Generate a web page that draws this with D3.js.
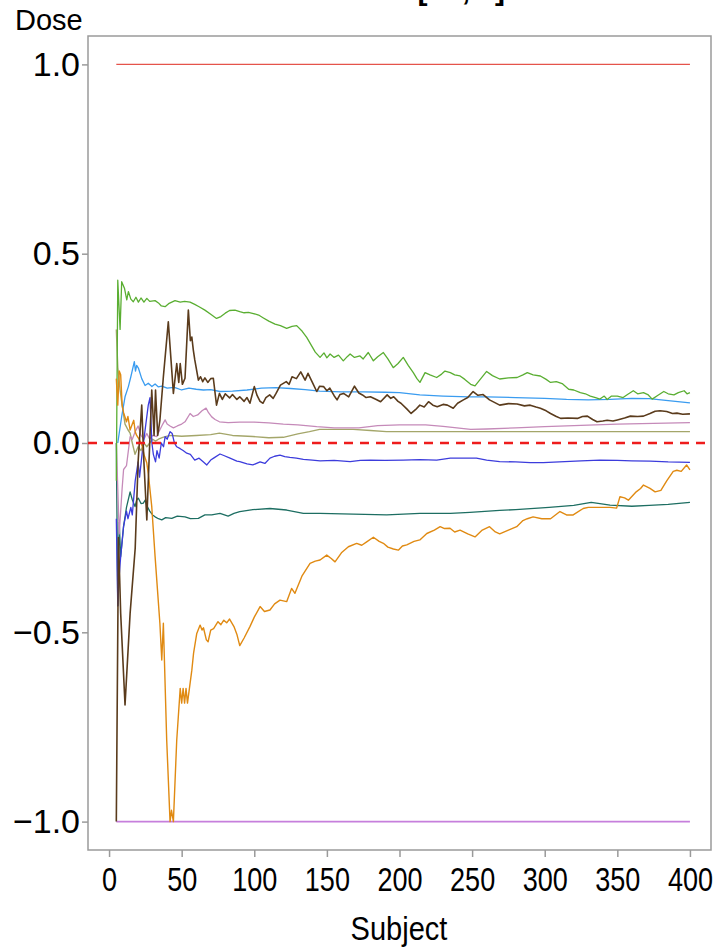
<!DOCTYPE html>
<html>
<head>
<meta charset="utf-8">
<script src="https://cdn.jsdelivr.net/npm/d3@7"></script>
<style>
  body { margin: 0; background: #fff; }
  text { font-family: "Liberation Sans", Arial, Helvetica, sans-serif; fill: #000; }
</style>
</head>
<body>
<svg id="chart" width="717" height="948"></svg>
<script>
// tick values
const xTicks = [0, 50, 100, 150, 200, 250, 300, 350, 400];
const yTicks = [-1, -0.5, 0, 0.5, 1];

// [subject, dose]
const upperBound = [[5, 1], [400, 1]];
const lowerBound = [[5, -1], [400, -1]];

const greenDose = [[5,-0.1],[6,0.43],[7.6,0.3],[8.7,0.426],[10.6,0.409],[12.2,0.378],[13.3,0.4],[15,0.38],[16.7,0.373],[18.5,0.385],[20.2,0.372],[22,0.383],[24,0.372],[26,0.382],[28,0.374],[31.7,0.376],[34,0.37],[36,0.362],[38.6,0.36],[41,0.368],[45.4,0.376],[49,0.372],[52,0.374],[55.8,0.372],[59,0.366],[62,0.36],[66,0.351],[70,0.34],[74,0.329],[77,0.334],[80,0.343],[83,0.35],[86.7,0.351],[90,0.347],[93,0.344],[96,0.345],[99.4,0.342],[103,0.338],[106,0.331],[110,0.322],[114.3,0.314],[118,0.31],[122.3,0.303],[126,0.308],[129.2,0.31],[133,0.295],[136.1,0.279],[139,0.26],[142,0.24],[145.3,0.226],[148,0.238],[150,0.225],[152.2,0.235],[155,0.226],[158,0.232],[161.3,0.217],[164,0.228],[166,0.235],[169,0.226],[172.8,0.23],[175,0.222],[178.5,0.239],[182,0.217],[185,0.228],[188.9,0.239],[192,0.222],[195.7,0.199],[199,0.21],[202.6,0.226],[206,0.205],[209.5,0.186],[212,0.17],[214.1,0.16],[217.6,0.186],[221,0.18],[225.6,0.173],[229,0.182],[231.3,0.19],[235,0.186],[238,0.18],[241.7,0.177],[245,0.168],[249,0.155],[252,0.151],[256,0.17],[260,0.189],[264,0.178],[269,0.169],[275,0.172],[281,0.173],[285,0.18],[288,0.186],[292,0.18],[297,0.177],[301,0.168],[304,0.16],[308,0.162],[312,0.157],[316.5,0.142],[320,0.14],[324.5,0.133],[328,0.13],[331.4,0.124],[335,0.12],[338,0.116],[341,0.124],[343,0.115],[346,0.124],[350,0.124],[354,0.12],[357,0.128],[361,0.138],[364,0.13],[368,0.133],[371,0.128],[374,0.116],[378,0.126],[382,0.136],[385,0.13],[389,0.127],[392,0.133],[396,0.138],[398,0.13],[400,0.133]];

const blueDose = [[6,0.0],[8.7,0.07],[11,0.122],[13.3,0.149],[15,0.175],[17.4,0.215],[18.2,0.19],[19,0.205],[20.2,0.198],[22.5,0.17],[24.8,0.152],[27,0.158],[29.5,0.149],[31.7,0.156],[34,0.148],[36.3,0.15],[40,0.145],[45,0.147],[50,0.14],[55,0.145],[60,0.142],[65,0.14],[70,0.141],[76.4,0.136],[85,0.137],[95,0.14],[105,0.145],[115,0.146],[125,0.144],[135,0.141],[145,0.137],[160,0.135],[175,0.135],[190,0.134],[200,0.133],[214,0.127],[230,0.124],[248,0.122],[260,0.122],[280,0.12],[300,0.118],[315,0.115],[330,0.114],[345,0.115],[360,0.118],[372,0.117],[385,0.112],[400,0.106]];

const brownDose = [[5,-1.0],[6.5,-0.25],[8,-0.45],[11,-0.692],[14.5,-0.45],[18,-0.278],[20,-0.05],[22.5,0.1],[24,-0.05],[26,-0.203],[28,0.0],[29.4,0.14],[31,0.02],[32,0.14],[33.5,0.02],[35,0.06],[37.4,0.175],[40.8,0.32],[44.3,0.131],[46.6,0.21],[48,0.16],[49,0.21],[50.5,0.155],[52.3,0.171],[54.6,0.351],[56,0.27],[57,0.28],[58,0.246],[59,0.22],[61.5,0.166],[63,0.175],[64.5,0.162],[66,0.172],[68,0.16],[70,0.17],[71.8,0.171],[74,0.10],[76,0.131],[78,0.115],[80,0.13],[83,0.119],[85,0.128],[88,0.115],[90,0.122],[93,0.11],[95,0.12],[97,0.105],[100,0.149],[102,0.125],[104,0.11],[106,0.105],[108,0.12],[110.6,0.127],[113,0.118],[115,0.131],[118,0.153],[122,0.162],[124,0.155],[126,0.175],[129,0.17],[132,0.188],[135,0.166],[137,0.184],[140,0.16],[143,0.136],[145,0.15],[147.7,0.149],[150,0.138],[152,0.145],[155,0.125],[157,0.114],[159,0.128],[161.5,0.131],[165,0.122],[169,0.15],[172,0.132],[174.5,0.127],[177,0.12],[180,0.122],[184,0.115],[187,0.109],[191.5,0.127],[194,0.118],[196,0.122],[199,0.11],[201,0.105],[205,0.09],[208,0.078],[211,0.088],[214,0.1],[217,0.095],[220,0.109],[223,0.1],[226,0.096],[230,0.102],[233,0.1],[237,0.092],[240,0.105],[244,0.114],[247,0.12],[250.7,0.136],[254,0.126],[257.6,0.128],[262,0.114],[265,0.108],[269,0.1],[275,0.104],[281,0.103],[286,0.098],[290,0.1],[294,0.095],[297,0.092],[301,0.085],[304,0.078],[308,0.07],[311,0.065],[316,0.066],[322.5,0.065],[326,0.07],[329.4,0.071],[333,0.062],[336,0.056],[340,0.058],[343,0.06],[347,0.058],[350,0.061],[355,0.066],[359,0.071],[364,0.07],[368,0.071],[372.5,0.078],[376,0.084],[379.4,0.085],[384,0.083],[388,0.078],[391,0.079],[395,0.076],[400,0.077]];

const pinkDose = [[5,0.0],[7,-0.24],[9,-0.12],[10,-0.07],[12,-0.06],[14.5,0.017],[16,0.01],[18,0.03],[20,0.045],[22,0.02],[24,0.01],[26,0.025],[28,0.01],[30,0.02],[32.8,0.017],[35,0.035],[37,0.05],[38.6,0.061],[40,0.05],[42,0.045],[44.3,0.04],[47,0.045],[50,0.05],[52.3,0.056],[55.8,0.078],[58,0.07],[61,0.074],[64,0.085],[66.8,0.092],[68.5,0.08],[70.7,0.069],[73,0.062],[76,0.056],[82,0.054],[90,0.055],[100,0.055],[110,0.053],[120,0.05],[130,0.048],[143,0.043],[155,0.04],[172,0.04],[185,0.046],[200,0.048],[218,0.048],[230,0.044],[249,0.036],[260,0.037],[280,0.04],[300,0.043],[320,0.046],[350,0.05],[375,0.052],[400,0.054]];

const oliveDose = [[5,0.3],[6,0.2],[7.6,0.14],[9,0.1],[11,0.05],[13,0.035],[14.5,0.026],[16,0.0],[17.9,-0.03],[20,-0.01],[22,-0.02],[24,0.0],[26,-0.01],[28,0.0],[30,0.01],[32,0.005],[34,0.01],[37,0.015],[40,0.018],[43,0.02],[50,0.018],[60,0.02],[70,0.022],[76,0.026],[85,0.02],[99,0.017],[110,0.014],[120,0.015],[130,0.024],[138,0.03],[145,0.036],[155,0.036],[168,0.036],[180,0.033],[191,0.03],[210,0.03],[247,0.03],[300,0.03],[350,0.03],[400,0.03]];

const indigoDose = [[5,-0.2],[6,-0.43],[7,-0.35],[8,-0.3],[10,-0.22],[12,-0.18],[13,-0.2],[15,-0.17],[16,-0.19],[18,-0.1],[20,-0.05],[21,-0.09],[23,-0.02],[25,0.04],[27,0.1],[28.2,0.12],[29.5,0.0],[30.5,-0.03],[32,-0.05],[33,-0.02],[34.5,-0.04],[36,0.0],[37.5,-0.01],[38.6,0.017],[40,0.01],[42,0.03],[43.5,0.025],[45,0.0],[46.6,-0.01],[49,-0.015],[51,-0.02],[53.5,-0.027],[56,-0.03],[59,-0.045],[62,-0.04],[65,-0.05],[67.3,-0.058],[70,-0.045],[72,-0.04],[76.4,-0.029],[79,-0.033],[83.3,-0.04],[88,-0.048],[90,-0.049],[95,-0.055],[99,-0.058],[104,-0.05],[107.3,-0.054],[110.8,-0.04],[114,-0.035],[117.7,-0.032],[121,-0.036],[124.5,-0.038],[129,-0.04],[133.8,-0.043],[140,-0.045],[145.3,-0.047],[155,-0.046],[166,-0.049],[173,-0.046],[180,-0.045],[190,-0.046],[202.6,-0.045],[214,-0.044],[225.6,-0.045],[235,-0.04],[244,-0.04],[253,-0.04],[260,-0.045],[269,-0.049],[280,-0.05],[290,-0.052],[299,-0.052],[310,-0.05],[325,-0.047],[338,-0.045],[350,-0.046],[360,-0.047],[372.5,-0.048],[385,-0.05],[400,-0.051]];

const tealDose = [[5,0.0],[6,-0.43],[7,-0.21],[8,-0.3],[10,-0.22],[12,-0.17],[14.5,-0.129],[16,-0.15],[17.9,-0.168],[19,-0.15],[20.2,-0.146],[22,-0.16],[23.6,-0.159],[25,-0.15],[26,-0.165],[28,-0.18],[30,-0.19],[31.7,-0.195],[34,-0.2],[36.3,-0.203],[39,-0.197],[43.2,-0.199],[47,-0.193],[52.3,-0.195],[56,-0.2],[61.5,-0.199],[66,-0.19],[70.7,-0.19],[76.4,-0.186],[82,-0.193],[86,-0.186],[90,-0.181],[99,-0.176],[110.8,-0.173],[122.3,-0.177],[133.8,-0.186],[145.3,-0.186],[168.2,-0.188],[191.2,-0.19],[214.1,-0.186],[235,-0.186],[248.5,-0.183],[269,-0.178],[280,-0.176],[303,-0.17],[320,-0.165],[332,-0.157],[338,-0.16],[345,-0.164],[360,-0.167],[372,-0.165],[385,-0.162],[400,-0.157]];

const orangeDose = [[5,0.17],[6,0.1],[7,0.19],[8,0.18],[9,0.1],[10,0.08],[12,0.056],[13,0.07],[14.5,0.034],[15.5,0.045],[17,0.06],[18,0.03],[19,0.02],[21,0.008],[23,-0.01],[24,-0.03],[26,-0.053],[27,-0.08],[29.4,-0.168],[31.7,-0.30],[35,-0.476],[36.3,-0.573],[37.4,-0.476],[39.7,-0.785],[42,-1.0],[43,-0.97],[44.3,-1.0],[46.6,-0.785],[49,-0.648],[50,-0.687],[51,-0.648],[52,-0.687],[53,-0.648],[54,-0.687],[57,-0.6],[58.2,-0.555],[60.4,-0.503],[62.7,-0.481],[64,-0.494],[65,-0.488],[67,-0.52],[68.2,-0.525],[70,-0.494],[72,-0.49],[75,-0.472],[77,-0.48],[79,-0.468],[81,-0.475],[83,-0.465],[86,-0.485],[88,-0.505],[90,-0.535],[93,-0.515],[97,-0.485],[100,-0.46],[104,-0.432],[107,-0.445],[110.8,-0.441],[114,-0.425],[117.7,-0.415],[122.3,-0.419],[125.7,-0.384],[128,-0.397],[133,-0.35],[138.4,-0.318],[142,-0.312],[145.3,-0.309],[149.9,-0.296],[153,-0.305],[155.6,-0.314],[160,-0.29],[164.8,-0.274],[170.5,-0.265],[174,-0.27],[177.4,-0.261],[182,-0.249],[186,-0.26],[188.9,-0.265],[192,-0.275],[195.8,-0.28],[199.2,-0.283],[202,-0.272],[205,-0.269],[210,-0.26],[214,-0.256],[218.8,-0.239],[224,-0.23],[228,-0.221],[231,-0.226],[234.8,-0.225],[238,-0.235],[241.7,-0.23],[247,-0.24],[252,-0.248],[257,-0.23],[262,-0.221],[266,-0.235],[269,-0.24],[275,-0.23],[280.7,-0.221],[285,-0.205],[288,-0.2],[292,-0.195],[298,-0.2],[304,-0.2],[310.5,-0.181],[315,-0.19],[319.6,-0.19],[326.5,-0.173],[330,-0.17],[338,-0.17],[345,-0.17],[349.5,-0.172],[351.8,-0.142],[355,-0.145],[357.6,-0.151],[363,-0.129],[366,-0.12],[368,-0.111],[372.5,-0.12],[376,-0.129],[380,-0.125],[384,-0.1],[388.5,-0.075],[391,-0.072],[394,-0.075],[397.7,-0.058],[400,-0.071]];

// drawing order, bottom to top
const seriesList = [
  { data: upperBound, color: "#e5534b", width: 1.3 },
  { data: lowerBound, color: "#c67fdc", width: 1.6 },
  { data: tealDose,   color: "#1d6e62", width: 1.3 },
  { data: oliveDose,  color: "#a4a66a", width: 1.4 },
  { data: pinkDose,   color: "#c58ab9", width: 1.3 },
  { data: blueDose,   color: "#3a9cf0", width: 1.3 },
  { data: indigoDose, color: "#3c3cdc", width: 1.3 },
  { data: greenDose,  color: "#5aae32", width: 1.3 },
  { data: orangeDose, color: "#e08a12", width: 1.4 },
  { data: brownDose,  color: "#5a3b1c", width: 1.6 }
];

const frame = { left: 88, top: 36, right: 711, bottom: 850 };

const svg = d3.select("#chart");

const x = d3.scaleLinear()
  .domain([-14.5, 414.5])
  .range([frame.left, frame.right]);

const y = d3.scaleLinear()
  .domain([-1.075, 1.075])
  .range([frame.bottom, frame.top]);

// title runs off the top edge, as in the source picture
svg.append("text")
  .attr("x", 505)
  .attr("y", 0)
  .attr("text-anchor", "end")
  .attr("font-size", 30)
  .attr("font-weight", "bold")
  .text("[\u22121, 1]");

// plot frame
svg.append("rect")
  .attr("x", frame.left)
  .attr("y", frame.top)
  .attr("width", frame.right - frame.left)
  .attr("height", frame.bottom - frame.top)
  .attr("fill", "none")
  .attr("stroke", "#9a9a9a")
  .attr("stroke-width", 1.5);

// x axis
const xAxis = svg.append("g")
  .attr("transform", `translate(0,${frame.bottom})`)
  .call(d3.axisBottom(x).tickValues(xTicks).tickSize(7).tickPadding(11));
xAxis.select(".domain").remove();
xAxis.selectAll(".tick line").attr("stroke", "#9a9a9a").attr("stroke-width", 1.5);
xAxis.selectAll(".tick text")
  .attr("font-size", 33)
  .attr("font-family", "Liberation Sans, Arial, sans-serif")
  .attr("fill", "#000")
  .attr("transform", "scale(0.82,1)");

// y axis
const yAxis = svg.append("g")
  .attr("transform", `translate(${frame.left},0)`)
  .call(d3.axisLeft(y).tickValues(yTicks).tickSize(6).tickPadding(2).tickFormat(d3.format(".1f")));
yAxis.select(".domain").remove();
yAxis.selectAll(".tick line").attr("stroke", "#9a9a9a").attr("stroke-width", 1.5);
yAxis.selectAll(".tick text")
  .attr("font-size", 34)
  .attr("font-family", "Liberation Sans, Arial, sans-serif")
  .attr("fill", "#000");

// axis titles
svg.append("text")
  .attr("transform", "translate(399,940) scale(0.88,1)")
  .attr("text-anchor", "middle")
  .attr("font-size", 33)
  .text("Subject");

svg.append("text")
  .attr("x", 15)
  .attr("y", 30)
  .attr("font-size", 29)
  .text("Dose");

// dose paths
const line = d3.line()
  .x(d => x(d[0]))
  .y(d => y(d[1]));

svg.append("g")
  .selectAll("path")
  .data(seriesList)
  .join("path")
  .attr("d", d => line(d.data))
  .attr("fill", "none")
  .attr("stroke", d => d.color)
  .attr("stroke-width", d => d.width)
  .attr("stroke-linejoin", "round");

// zero reference
svg.append("line")
  .attr("x1", frame.left)
  .attr("x2", frame.right)
  .attr("y1", y(0))
  .attr("y2", y(0))
  .attr("stroke", "#ee1c1c")
  .attr("stroke-width", 2.6)
  .attr("stroke-dasharray", "9,7");
</script>
</body>
</html>
